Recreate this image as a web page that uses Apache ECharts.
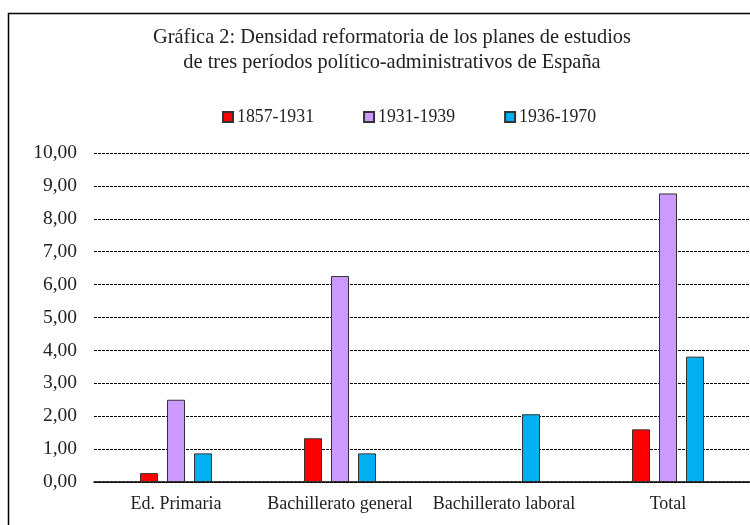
<!DOCTYPE html>
<html>
<head>
<meta charset="utf-8">
<script src="https://cdn.jsdelivr.net/npm/echarts@6/dist/echarts.min.js"></script>
<style>
  html, body { margin: 0; padding: 0; background: #fff; }
  #chart { width: 750px; height: 525px; }
</style>
</head>
<body>
<div id="chart"></div>
<script>
var categories = ['Ed. Primaria', 'Bachillerato general', 'Bachillerato laboral', 'Total'];
var seriesNames = ['1857-1931', '1931-1939', '1936-1970'];
var values1857 = [0.27, 1.33, null, 1.60];
var values1931 = [2.50, 6.26, null, 8.77];
var values1936 = [0.87, 0.87, 2.06, 3.81];
var colors = ['#ff0000', '#cc99ff', '#00b0f0'];

var dom = document.getElementById('chart');
var myChart = echarts.init(dom);
var font = '"Liberation Serif", "Times New Roman", serif';

function barSeries(name, data, color) {
    return {
        name: name,
        type: 'bar',
        data: data,
        barWidth: 18,
        barGap: '50%',
        itemStyle: { color: color, borderColor: '#333', borderWidth: 1 }
    };
}

var option = {
    animation: false,
    color: colors,
    textStyle: { fontFamily: font },
    graphic: [{
        type: 'rect',
        shape: { x: 8.5, y: 13.5, width: 760, height: 540 },
        style: { fill: 'none', stroke: '#000', lineWidth: 1.5 },
        silent: true
    }],
    title: {
        text: 'Gráfica 2: Densidad reformatoria de los planes de estudios\nde tres períodos político-administrativos de España',
        left: 387,
        textAlign: 'center',
        top: 20,
        textStyle: { fontFamily: font, fontSize: 20.4, fontWeight: 'normal', color: '#222', lineHeight: 25 }
    },
    legend: {
        data: seriesNames,
        left: 217,
        top: 103,
        itemWidth: 10,
        itemHeight: 10,
        itemGap: 49,
        icon: 'rect',
        textStyle: { fontFamily: font, fontSize: 17.8, color: '#222', padding: [0, 0, 0, -1] }
    },
    grid: { left: 94, right: 0, top: 153, bottom: 43, containLabel: false },
    xAxis: {
        type: 'category',
        data: categories,
        axisTick: { show: false },
        axisLine: { lineStyle: { color: '#000', width: 1.5 } },
        axisLabel: { interval: 0, hideOverlap: false, fontFamily: font, fontSize: 18, color: '#222', margin: 13 }
    },
    yAxis: {
        type: 'value',
        min: 0,
        max: 10,
        interval: 1,
        axisLine: { show: false },
        axisTick: { show: false },
        axisLabel: {
            fontFamily: font, fontSize: 19.5, color: '#222', margin: 17,
            formatter: function (v) { return v.toFixed(2).replace('.', ','); }
        },
        splitLine: { lineStyle: { color: '#000', type: [3, 1], width: 1 } }
    },
    series: [
        barSeries(seriesNames[0], values1857, colors[0]),
        barSeries(seriesNames[1], values1931, colors[1]),
        barSeries(seriesNames[2], values1936, colors[2])
    ]
};

if (option && typeof option === 'object') {
    myChart.setOption(option);
}
</script>
</body>
</html>
